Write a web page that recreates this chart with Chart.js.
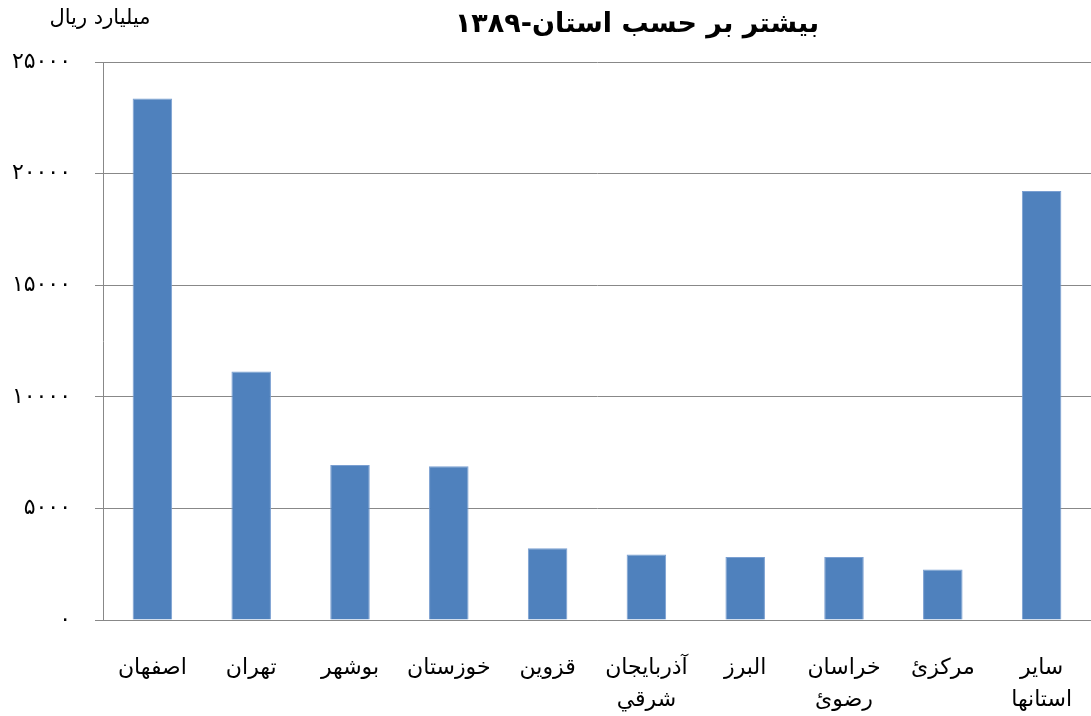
<!DOCTYPE html>
<html>
<head>
<meta charset="utf-8">
<script src="https://cdn.jsdelivr.net/npm/chart.js@4"></script>
<style>
  body { margin: 0; background: #fff; }
  #wrap { width: 1091px; height: 716px; }
</style>
</head>
<body>
<div id="wrap"><canvas id="barChart" width="1091" height="716"></canvas></div>
<script>
// provinces, left to right as in the picture
const provinces = [
    'اصفهان', 'تهران', 'بوشهر', 'خوزستان', 'قزوین',
    ['آذربایجان', 'شرقي'], 'البرز', ['خراسان', 'رضوئ'], 'مرکزئ', ['سایر', 'استانها']
];
// values in billion rials
const amounts = [23360, 11130, 6940, 6890, 3210, 2940, 2820, 2820, 2260, 19220];
const yTicks = [0, 5000, 10000, 15000, 20000, 25000];
const yTickLabels = ['۰', '۵۰۰۰', '۱۰۰۰۰', '۱۵۰۰۰', '۲۰۰۰۰', '۲۵۰۰۰'];
const titleText = 'بیشتر بر حسب استان-۱۳۸۹';
const unitText = 'میلیارد ریال';

const fontFamily = '"DejaVu Sans", "Liberation Sans", sans-serif';

// title and unit label drawn by hand (title is off-centre in the original)
const headerPlugin = {
    id: 'header',
    afterDraw(chart) {
        const ctx = chart.ctx;
        ctx.save();
        ctx.direction = 'rtl';
        ctx.fillStyle = '#000';
        ctx.textBaseline = 'middle';
        ctx.textAlign = 'center';
        ctx.font = 'bold 27px ' + fontFamily;
        ctx.fillText(titleText, 637, 25);
        ctx.font = '21px ' + fontFamily;
        ctx.fillText(unitText, 100, 19);
        ctx.restore();
    }
};

const ctx = document.getElementById('barChart').getContext('2d');
new Chart(ctx, {
    type: 'bar',
    data: {
        labels: provinces,
        datasets: [{
            data: amounts,
            backgroundColor: '#4F81BD',
            borderColor: '#7A9FD1',
            borderWidth: 1,
            barPercentage: 0.4,
            categoryPercentage: 1.0
        }]
    },
    options: {
        responsive: false,
        animation: false,
        layout: { padding: { top: 62, bottom: 0, left: 0, right: 0 } },
        plugins: {
            legend: { display: false },
            tooltip: { enabled: false }
        },
        scales: {
            x: {
                afterFit(scale) { scale.height = 96; },
                grid: { display: false, drawTicks: true, tickLength: 32 },
                border: { display: true, color: '#888' },
                ticks: {
                    padding: 0,
                    maxRotation: 0,
                    autoSkip: false,
                    color: '#000',
                    font: { family: fontFamily, size: 22, lineHeight: 1.45 }
                }
            },
            y: {
                min: 0,
                max: 25000,
                afterFit(scale) { scale.width = 103; },
                afterBuildTicks(scale) {
                    scale.ticks = yTicks.map(v => ({ value: v }));
                },
                grid: { color: '#888', tickLength: 8, drawTicks: true },
                border: { display: true, color: '#888' },
                ticks: {
                    padding: 24,
                    color: '#000',
                    font: { family: fontFamily, size: 22 },
                    callback: function (value) {
                        const i = yTicks.indexOf(value);
                        return i >= 0 ? yTickLabels[i] : '';
                    }
                }
            }
        }
    },
    plugins: [headerPlugin]
});
</script>
</body>
</html>
